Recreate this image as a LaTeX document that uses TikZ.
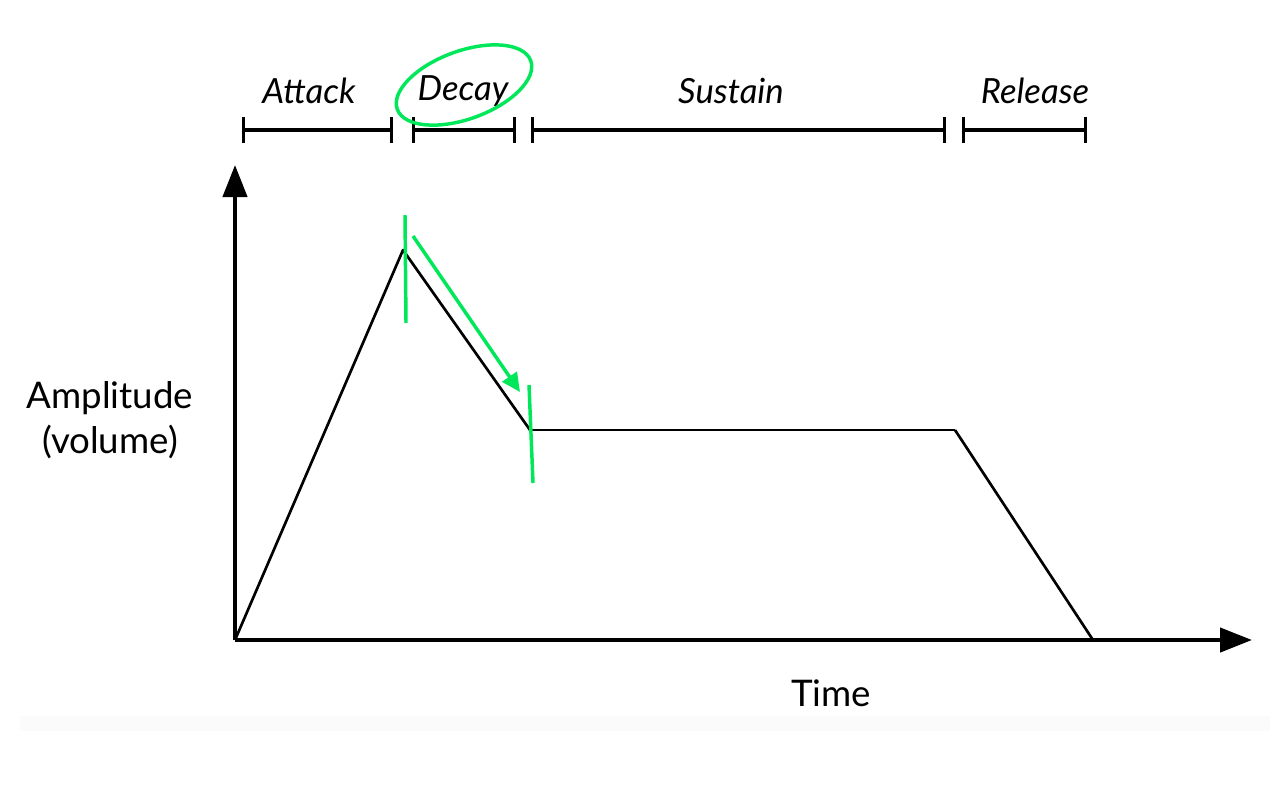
\documentclass[tikz,border=0pt]{standalone}
\usepackage{fontspec}
\setmainfont{Lato}
\usetikzlibrary{arrows.meta}
\definecolor{markgreen}{RGB}{0,232,90}

\tikzset{
  axis/.style={line width=3.3pt,-{Triangle[length=24pt,width=18pt]}},
  envline/.style={line width=2pt,line join=round},
  phasebar/.style={line width=2.4pt,{Bar[width=19pt]}-{Bar[width=19pt]}},
  phaselabel/.style={font=\fontsize{26}{30}\selectfont\itshape,inner sep=0.75pt},
  axislabel/.style={font=\fontsize{27.5}{34}\selectfont,inner sep=0.75pt,align=center},
  greenmark/.style={draw=markgreen,line width=2.6pt},
}

\begin{document}
\begin{tikzpicture}[x=0.75pt,y=0.75pt,yscale=-1,xscale=1]
        \useasboundingbox (0,0) rectangle (1280,800);
        % faint band under the plot
        \fill[black!1.5] (20,716) rectangle (1270,731);

        % axes
        \coordinate (O) at (235,640);
        \coordinate (ytip) at (235,165);
        \coordinate (xtip) at (1252,640);
        \draw[axis] (O) -- (ytip);
        \draw[axis] (O) -- (xtip);

        % envelope
        \coordinate (peak) at (403,250);
        \coordinate (sus0) at (530,430);
        \coordinate (sus1) at (955,430);
        \coordinate (rel) at (1093,640);
        \draw[envline] (O) -- (peak) -- (sus0);
        \draw[line width=1.5pt] (sus0) -- (sus1);
        \draw[envline] (sus1) -- (rel);

        % phase bars
        \coordinate (att0) at (242,130);
        \coordinate (att1) at (393,130);
        \coordinate (dec0) at (412,130);
        \coordinate (dec1) at (516,130);
        \coordinate (sust0) at (531,130);
        \coordinate (sust1) at (946,130);
        \coordinate (rls0) at (962,130);
        \coordinate (rls1) at (1087,130);
        \draw[phasebar] (att0) -- (att1);
        \draw[phasebar] (dec0) -- (dec1);
        \draw[phasebar] (sust0) -- (sust1);
        \draw[phasebar] (rls0) -- (rls1);

        % Text Node
        \node[phaselabel] (attack) at (309,91) {Attack};
        % Text Node
        \node[phaselabel] (decay) at (463,91) {Decay};
        % Text Node
        \node[phaselabel] (sustain) at (731,91) {Sustain};
        % Text Node
        \node[phaselabel] (release) at (1035,91) {Release};
        % Text Node
        \node[axislabel] (amp) at (110,420) {Amplitude\\(volume)};
        % Text Node
        \node[axislabel] (time) at (831,693) {Time};

        % green marks
        \draw[greenmark,rotate around={-20:(464,85)}] (464,85) ellipse [x radius=71,y radius=34];
        \draw[greenmark] (405,215) -- (406,323);
        \draw[greenmark] (529,385) -- (533,483);
        \draw[greenmark,-{Triangle[length=14pt,width=13pt]}] (413,236) -- (520,392);
\end{tikzpicture}
\end{document}
